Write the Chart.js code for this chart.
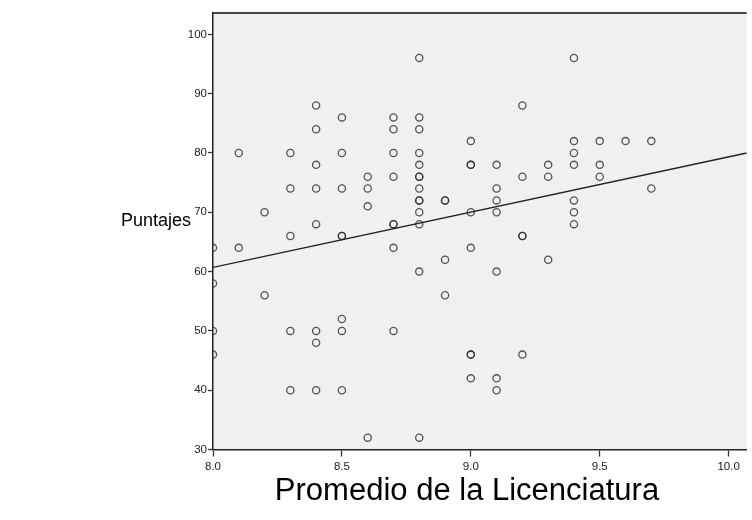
<!DOCTYPE html>
<html><head><meta charset="utf-8">
<script src="https://cdn.jsdelivr.net/npm/chart.js@4.4.1/dist/chart.umd.min.js"></script>
<style>html,body{margin:0;padding:0;background:#fff;}#wrap{width:752px;height:520px;position:relative;}</style>
</head><body><div id="wrap"><canvas id="c" width="752" height="520"></canvas></div>
<script>
// Data (x = Promedio, y = Puntajes); duplicates reflect darker overlapping markers
const promedio = [
 8.0,8.0,8.0,8.0,
 8.1,8.1,
 8.2,8.2,
 8.3,8.3,8.3,8.3,8.3,
 8.4,8.4,8.4,8.4,8.4,8.4,8.4,8.4,
 8.5,8.5,8.5,8.5,8.5,8.5,8.5,8.5,
 8.6,8.6,8.6,8.6,
 8.7,8.7,8.7,8.7,8.7,8.7,8.7,8.7,
 8.8,8.8,8.8,8.8,8.8,8.8,8.8,8.8,8.8,8.8,8.8,8.8,8.8,8.8,
 8.9,8.9,8.9,8.9,
 9.0,9.0,9.0,9.0,9.0,9.0,9.0,9.0,
 9.1,9.1,9.1,9.1,9.1,9.1,9.1,
 9.2,9.2,9.2,9.2,9.2,
 9.3,9.3,9.3,
 9.4,9.4,9.4,9.4,9.4,9.4,9.4,
 9.5,9.5,9.5,
 9.6,
 9.7,9.7
];
const puntajes = [
 64,58,50,46,
 80,64,
 70,56,
 80,74,66,50,40,
 88,84,78,74,68,50,48,40,
 86,80,74,66,66,52,50,40,
 76,74,71,32,
 86,84,80,76,68,68,64,50,
 96,86,84,80,78,76,76,74,72,72,70,68,60,32,
 72,72,62,56,
 82,78,78,70,64,46,46,42,
 78,74,72,70,60,42,40,
 88,76,66,66,46,
 78,76,62,
 96,82,80,78,72,70,68,
 82,78,76,
 82,
 82,74
];
const fitX = [8.0, 10.07];
const fitY = [60.7, 80.0];
const xTicks = [8.0, 8.5, 9.0, 9.5, 10.0];
const yTicks = [30, 40, 50, 60, 70, 80, 90, 100];
const yTitle = 'Puntajes';
const xTitle = 'Promedio de la Licenciatura';

const pts = promedio.map((x,i)=>({x:x,y:puntajes[i]}));
const fit = fitX.map((x,i)=>({x:x,y:fitY[i]}));
const FONT = '"Liberation Sans", Arial, sans-serif';

const bgPlugin = {
  id:'bg',
  beforeDraw(chart){
    const {ctx, chartArea:a} = chart;
    ctx.save();
    ctx.fillStyle = '#f0f0f0';
    ctx.fillRect(a.left, a.top, a.right-a.left, a.bottom-a.top);
    ctx.restore();
  },
  afterDraw(chart){
    const {ctx, chartArea:a} = chart;
    ctx.save();
    ctx.strokeStyle = '#444';
    ctx.lineWidth = 2;
    ctx.beginPath();
    ctx.moveTo(a.left, a.top);
    ctx.lineTo(a.right, a.top);
    ctx.stroke();
    ctx.fillStyle = '#000';
    ctx.font = '18px ' + FONT;
    ctx.textAlign = 'left';
    ctx.textBaseline = 'middle';
    ctx.fillText(yTitle, 121, 221);
    ctx.font = '31px ' + FONT;
    ctx.textAlign = 'center';
    ctx.fillText(xTitle, 467, 491);
    ctx.restore();
  }
};

new Chart(document.getElementById('c'), {
  type:'scatter',
  data:{datasets:[
    {type:'line', data:fit, borderColor:'#222', borderWidth:1.4, pointRadius:0, fill:false, order:0},
    {data:pts, pointStyle:'circle', pointRadius:3.6, pointBorderWidth:1.3,
     borderColor:'rgba(45,45,45,0.8)', backgroundColor:'rgba(0,0,0,0)', order:1}
  ]},
  options:{
    responsive:false, animation:false,
    layout:{padding:{left:0,right:0,top:13,bottom:0}},
    plugins:{legend:{display:false}, tooltip:{enabled:false}},
    scales:{
      x:{type:'linear', min:8.0, max:10.07,
        afterBuildTicks(s){ s.ticks = xTicks.map(v=>({value:v})); },
        afterFit(s){ s.height = 70.5; },
        grid:{drawOnChartArea:false, drawTicks:true, tickLength:7, color:'#333', tickWidth:1.3},
        border:{display:true, color:'#222', width:1.5},
        ticks:{padding:3, color:'#222', font:{family:FONT, size:11.5},
          callback:v=>Number(v).toFixed(1), maxRotation:0, autoSkip:false}
      },
      y:{type:'linear', min:30, max:103.6,
        afterBuildTicks(s){ s.ticks = yTicks.map(v=>({value:v})); },
        afterFit(s){ s.width = 213; },
        grid:{drawOnChartArea:false, drawTicks:true, tickLength:5, color:'#333', tickWidth:1.3},
        border:{display:true, color:'#222', width:1.5},
        ticks:{padding:1, color:'#222', font:{family:FONT, size:11.5}}
      }
    }
  },
  plugins:[bgPlugin]
});
</script></body></html>
